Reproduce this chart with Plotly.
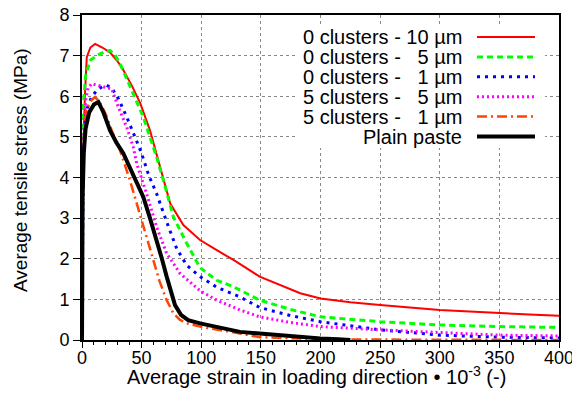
import plotly.graph_objects as go

# ---- data ----
red_x = [0, 1, 2.5, 4, 7, 11, 17, 23.5, 30, 35, 42, 49, 57, 65, 74, 85, 99, 113, 127, 149, 170, 183, 200, 225, 250, 275, 300, 325, 350, 375, 400]
red_y = [0, 4.5, 6.07, 6.96, 7.2, 7.29, 7.2, 7.08, 6.85, 6.63, 6.25, 5.82, 5.16, 4.3, 3.36, 2.83, 2.46, 2.21, 1.97, 1.56, 1.3, 1.15, 1.02, 0.93, 0.86, 0.8, 0.74, 0.7, 0.66, 0.63, 0.60]

green_x = [0, 0.5, 1, 3, 6.7, 12.3, 18, 23.5, 28, 32, 40, 51.4, 59.8, 62.6, 70, 76.6, 87.8, 99, 113, 127, 149, 175, 200, 250, 300, 350, 400]
green_y = [0, 4.5, 5.73, 6.5, 6.88, 7.0, 7.08, 7.13, 7.0, 6.8, 6.27, 5.49, 4.75, 4.5, 3.75, 3.03, 2.38, 1.78, 1.47, 1.31, 0.98, 0.75, 0.57, 0.45, 0.37, 0.33, 0.31]

blue_x = [0, 1, 3, 8, 12.3, 17, 20.7, 25, 30.5, 37.5, 44.4, 50, 56, 62.6, 71, 79.4, 87.8, 99, 113, 132.5, 149, 175, 200, 250, 300, 350, 400]
blue_y = [0, 4.5, 5.6, 5.98, 6.14, 6.24, 6.27, 6.2, 5.94, 5.49, 5.0, 4.59, 4.05, 3.6, 2.91, 2.25, 1.84, 1.56, 1.3, 1.06, 0.8, 0.6, 0.45, 0.25, 0.12, 0.07, 0.05]

magenta_x = [0, 1, 3, 5, 8.1, 12, 17.9, 24.9, 30.5, 37.5, 43, 45.9, 54.2, 62.6, 71, 82.2, 99, 113, 132.5, 149, 175, 200, 250, 300, 350, 400]
magenta_y = [0, 4.8, 5.9, 6.2, 6.31, 6.28, 6.22, 6.18, 5.73, 5.24, 4.75, 4.34, 3.6, 2.78, 2.13, 1.64, 1.21, 0.98, 0.74, 0.57, 0.43, 0.33, 0.25, 0.18, 0.12, 0.10]

orange_x = [0, 0.5, 2, 3.9, 7, 10.9, 15, 20, 25, 31.9, 40, 48.6, 54, 59.8, 65, 71, 76.6, 82, 87.8, 99, 115, 132.5, 149, 175, 200, 250, 300, 350, 400]
orange_y = [0, 4.0, 5.2, 5.69, 5.88, 5.98, 5.85, 5.55, 5.15, 4.67, 3.95, 3.11, 2.55, 1.97, 1.45, 0.98, 0.66, 0.50, 0.41, 0.33, 0.24, 0.16, 0.07, 0.04, 0.02, 0.01, 0.01, 0.0, 0.0]

black_x = [0, 0.5, 1.5, 3, 6, 10, 13.7, 18, 23.5, 29, 34.6, 42, 51.4, 57, 62.6, 67, 71, 75, 78, 83, 89, 99, 115, 132.5, 149, 175, 200, 215, 225]
black_y = [0, 3.5, 4.6, 5.2, 5.6, 5.8, 5.86, 5.6, 5.16, 4.85, 4.6, 4.1, 3.52, 3.0, 2.46, 2.0, 1.56, 1.15, 0.86, 0.62, 0.49, 0.41, 0.3, 0.2, 0.16, 0.09, 0.04, 0.02, 0.0]

series_names = [
    "0 clusters - 10 µm",
    "0 clusters - \u00a0\u00a05 µm",
    "0 clusters - \u00a0\u00a01 µm",
    "5 clusters - \u00a0\u00a05 µm",
    "5 clusters - \u00a0\u00a01 µm",
    "Plain paste",
]
x_ticks = [0, 50, 100, 150, 200, 250, 300, 350, 400]
y_ticks = [0, 1, 2, 3, 4, 5, 6, 7, 8]
x_title = "Average strain in loading direction • 10<sup>-3</sup> (-)"
y_title = "Average tensile stress (MPa)"

styles = [
    dict(color="#ff0000", width=2, dash="solid"),
    dict(color="#00ff00", width=3, dash="6px,4px"),
    dict(color="#0000ff", width=3, dash="3px,5px"),
    dict(color="#ff00ff", width=3, dash="2px,3px"),
    dict(color="#ff4500", width=2.5, dash="10px,4px,2px,4px"),
    dict(color="#000000", width=4, dash="solid"),
]

data = [(red_x, red_y), (green_x, green_y), (blue_x, blue_y),
        (magenta_x, magenta_y), (orange_x, orange_y), (black_x, black_y)]

FONT = "Liberation Sans, Arial, sans-serif"

fig = go.Figure()
for (xs, ys), st, nm in zip(data, styles, series_names):
    fig.add_trace(go.Scatter(x=xs, y=ys, mode="lines", name=nm, line=st,
                             showlegend=False))

# page offset of the figure (browser body margin)
OFF = 8
FW, FH = 580 - OFF, 407 - OFF
# plot area in page pixels
L, R, T, B = 82, 559, 15, 340
W, H = R - L, B - T
def px(xp):
    return (xp - L) / W
def py(yp):
    return (B - yp) / H

# custom gnuplot-style legend (text right, sample at right)
shapes = [dict(type="rect", xref="paper", yref="paper",
               x0=px(296), x1=px(545), y0=py(148), y1=py(27),
               fillcolor="white", line=dict(width=0), layer="above")]
annotations = []
for i, (nm, st) in enumerate(zip(series_names, styles)):
    yy = 37 + 19.9 * i
    annotations.append(dict(text=nm, xref="paper", yref="paper", x=px(464), y=py(yy),
                            xanchor="right", yanchor="middle", showarrow=False,
                            font=dict(size=20, color="black", family=FONT)))
    shapes.append(dict(type="line", xref="paper", yref="paper",
                       x0=px(477), x1=px(535), y0=py(yy), y1=py(yy),
                       line=dict(color=st["color"], width=st["width"], dash=st["dash"]),
                       layer="above"))

# axis titles as annotations for exact placement
annotations.append(dict(text=x_title, xref="paper", yref="paper", x=px(316), y=py(375),
                        xanchor="center", yanchor="middle", showarrow=False,
                        font=dict(size=20, color="black", family=FONT)))
annotations.append(dict(text=y_title, xref="paper", yref="paper", x=px(20), y=py(170),
                        xanchor="center", yanchor="middle", showarrow=False, textangle=-90,
                        font=dict(size=19, color="black", family=FONT)))

fig.update_layout(
    width=FW, height=FH,
    margin=dict(l=L - OFF, r=FW - (R - OFF), t=T - OFF, b=FH - (B - OFF), autoexpand=False),
    paper_bgcolor="white", plot_bgcolor="white",
    font=dict(family=FONT, size=19, color="black"),
    shapes=shapes, annotations=annotations,
    showlegend=False,
)
fig.update_xaxes(range=[0, 400], tickvals=x_ticks, ticks="outside", ticklen=6,
                 tickwidth=1, tickcolor="black", automargin=False, ticklabeloverflow="allow",
                 ticklabelstandoff=-6,
                 minor=dict(dtick=10, ticks="outside", ticklen=3, tickcolor="black", showgrid=False),
                 showline=True, linecolor="black", linewidth=2, mirror=True,
                 showgrid=True, gridcolor="#888888", griddash="dot", gridwidth=1,
                 zeroline=False, tickfont=dict(size=18))
fig.update_yaxes(range=[0, 8], tickvals=y_ticks, ticks="outside", ticklen=7,
                 tickwidth=1, tickcolor="black", automargin=False, ticklabeloverflow="allow",
                 showline=True, linecolor="black", linewidth=2, mirror=True,
                 showgrid=True, gridcolor="#888888", griddash="dot", gridwidth=1,
                 zeroline=False, tickfont=dict(size=18))

fig.write_html("out.html")
